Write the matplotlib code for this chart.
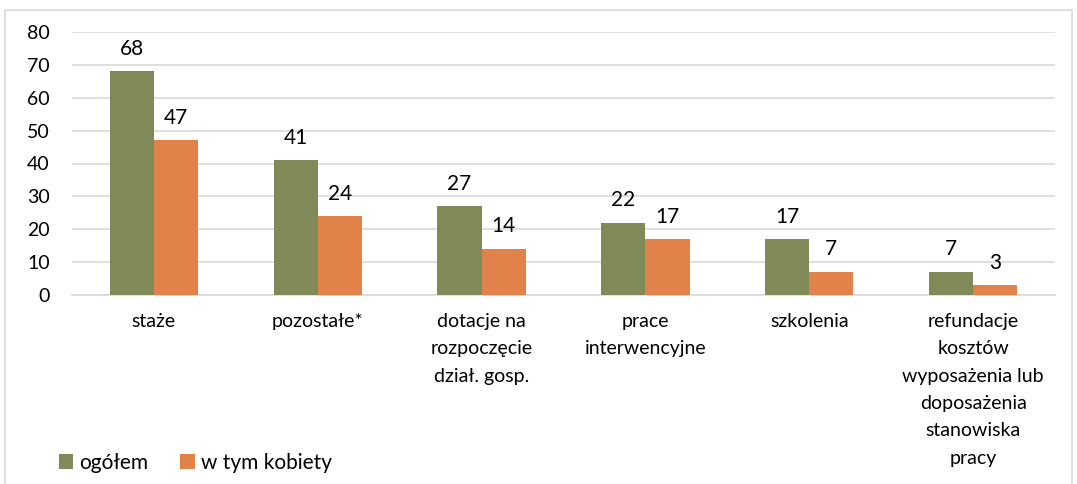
import matplotlib
matplotlib.use("Agg")
import matplotlib.pyplot as plt
from matplotlib.patches import Rectangle
import numpy as np

plt.rcParams['font.family'] = ['Lato', 'DejaVu Sans']

categories = ["staże", "pozostałe*", "dotacje na\nrozpoczęcie\ndział. gosp.",
              "prace\ninterwencyjne", "szkolenia",
              "refundacje\nkosztów\nwyposażenia lub\ndoposażenia\nstanowiska\npracy"]
ogolem = [68, 41, 27, 22, 17, 7]
kobiety = [47, 24, 14, 17, 7, 3]
series_names = ["ogółem", "w tym kobiety"]
yticks = [0, 10, 20, 30, 40, 50, 60, 70, 80]

green = "#7F8A58"
orange = "#E0824A"

fig = plt.figure(figsize=(10.77, 4.84), dpi=100)
# outer chart frame
fig.patches.append(Rectangle((5 / 1077, -0.05), 1067 / 1077, 1.05 - 10 / 484,
                             transform=fig.transFigure, fill=False,
                             edgecolor="#D9D9D9", linewidth=1.2))

ax = fig.add_axes([72 / 1077, 1 - 295 / 484, (1055 - 72) / 1077, (295 - 32) / 484])
x = np.arange(len(categories))
w = 0.27
b1 = ax.bar(x - w / 2, ogolem, w, color=green, label=series_names[0], zorder=3)
b2 = ax.bar(x + w / 2, kobiety, w, color=orange, label=series_names[1], zorder=3)

for bars, vals in ((b1, ogolem), (b2, kobiety)):
    for rect, v in zip(bars, vals):
        ax.annotate(str(v), xy=(rect.get_x() + rect.get_width() / 2, v),
                    xytext=(0, 9), textcoords="offset points",
                    ha="center", va="bottom", fontsize=15, color="#000000")

ax.set_xlim(-0.5, len(categories) - 0.5)
ax.set_ylim(0, 80)
ax.set_yticks(yticks)
ax.set_yticklabels([str(t) for t in yticks], fontsize=14)
ax.yaxis.grid(True, color="#D9D9D9", linewidth=1.2, zorder=0)
ax.tick_params(axis="y", length=0, pad=16)
ax.set_xticks(x)
ax.set_xticklabels([])
ax.tick_params(axis="x", length=0)
for s in ["top", "right", "left"]:
    ax.spines[s].set_visible(False)
ax.spines["bottom"].set_color("#D9D9D9")
ax.spines["bottom"].set_linewidth(1.2)

for xi, lab in zip(x, categories):
    ax.annotate(lab, xy=(xi, 0), xycoords="data", xytext=(0, -13),
                textcoords="offset points", ha="center", va="top",
                fontsize=14, linespacing=1.74)

fig.legend(handles=[b1, b2], labels=series_names, loc="center left",
           bbox_to_anchor=(40 / 1077, 1 - 463 / 484), ncol=2, frameon=False,
           fontsize=15, handlelength=0.7, handleheight=0.7, handletextpad=0.3,
           columnspacing=1.5)

fig.savefig("out.png", dpi=100)
